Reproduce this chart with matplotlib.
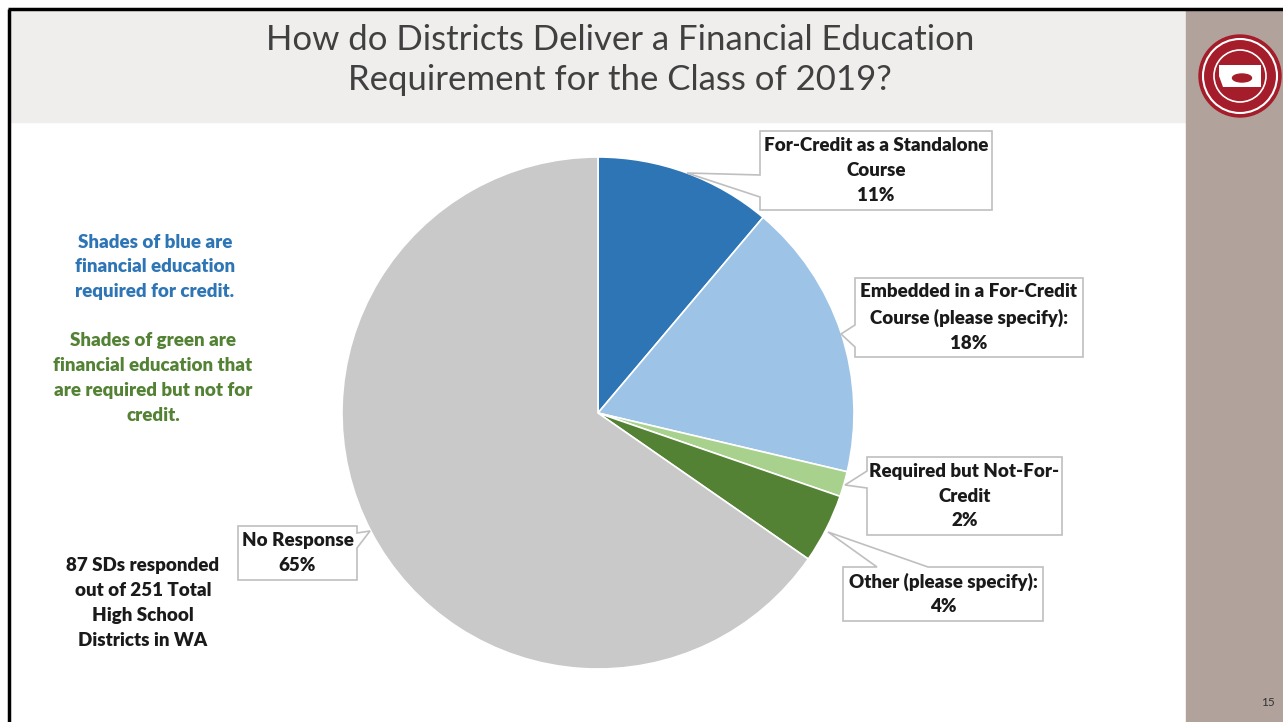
import matplotlib.pyplot as plt
import matplotlib.patches as patches

W, H = 1283, 722

# data (district counts out of 251 high school districts)
labels = ["For-Credit as a Standalone\nCourse",
          "Embedded in a For-Credit\nCourse (please specify):",
          "Required but Not-For-\nCredit",
          "Other (please specify):",
          "No Response"]
counts = [28, 44, 4, 11, 164]
colors = ["#2e75b6", "#9dc3e6", "#a9d18e", "#548235", "#c9c9c9"]
total = 251

title = "How do Districts Deliver a Financial Education\nRequirement for the Class of 2019?"
note_blue = "Shades of blue are\nfinancial education\nrequired for credit."
note_green = "Shades of green are\nfinancial education that\nare required but not for\ncredit."
note_black = "87 SDs responded\nout of 251 Total\nHigh School\nDistricts in WA"

plt.rcParams['font.family'] = ['Lato', 'DejaVu Sans']

fig = plt.figure(figsize=(W / 100, H / 100), dpi=100)
ax = fig.add_axes([0, 0, 1, 1])


def py(y):
    # pixel row (top origin) -> data y
    return H - y


# slide background
ax.add_patch(patches.Rectangle((10, py(122)), 1176, 112, color="#f0eeed", zorder=0))
ax.add_patch(patches.Rectangle((1186, 0), W - 1186, py(10), color="#b1a39b", zorder=0))
ax.plot([8, W], [py(9), py(9)], color="black", lw=2.5, zorder=1, solid_capstyle="butt")
ax.plot([9, 9], [py(9), 0], color="black", lw=2.5, zorder=1, solid_capstyle="butt")

# logo
lx, ly = 1240, py(76)
ax.add_patch(patches.Circle((lx, ly), 41, color="#a51c2a", zorder=2))
ax.add_patch(patches.Circle((lx, ly), 37, fill=False, ec="white", lw=1.5, zorder=3))
ax.add_patch(patches.Circle((lx, ly), 26, fill=False, ec="white", lw=1.2, zorder=3))
ax.add_patch(patches.Polygon([(lx - 21, ly + 11), (lx + 21, ly + 11), (lx + 21, ly - 11),
                              (lx - 17, ly - 11), (lx - 21, ly)], closed=True,
                             fc="white", ec="none", zorder=3))
ax.add_patch(patches.Ellipse((lx + 2, ly - 2), 19, 8, color="#a51c2a", zorder=4))

ax.text(620, py(60), title, ha="center", va="center", fontsize=25, color="#404040",
        linespacing=1.32, zorder=5)
ax.text(1268, py(703), "15", ha="center", va="center", fontsize=8.5, color="#333333")

# pie
cx, cy, r = 598, py(413), 256
ax.pie(counts, colors=colors, startangle=90, counterclock=False,
       center=(cx, cy), radius=r,
       wedgeprops=dict(edgecolor="white", linewidth=1.2))


def callout(x0, y0, x1, y1, side, a, b, tip, text):
    if side == "left":
        pts = [(x0, y0), (x1, y0), (x1, y1), (x0, y1), (x0, b), tip, (x0, a)]
    elif side == "right":
        pts = [(x0, y0), (x1, y0), (x1, a), tip, (x1, b), (x1, y1), (x0, y1)]
    else:
        pts = [(x0, y0), (a, y0), tip, (b, y0), (x1, y0), (x1, y1), (x0, y1)]
    pts = [(px, py(pyy)) for px, pyy in pts]
    ax.add_patch(patches.Polygon(pts, closed=True, fc="white", ec="#bfbfbf", lw=1.2, zorder=6))
    ax.text((x0 + x1) / 2, py((y0 + y1) / 2), text, ha="center", va="center",
            fontsize=13.5, fontweight="heavy", color="#1a1a1a", linespacing=1.55, zorder=7)


pcts = [round(100 * c / total) for c in counts]
boxes = [
    (760, 131, 992, 210, "left", 175, 197, (687, 173)),
    (855, 278, 1083, 357, "left", 325, 347, (841, 334)),
    (867, 457, 1062, 535, "left", 471, 488, (845, 485)),
    (843, 567, 1043, 621, "top", 877, 928, (828, 532)),
    (238, 526, 357, 580, "right", 533, 548, (370, 531)),
]
for lab, p, (x0, y0, x1, y1, side, a, b, tip) in zip(labels, pcts, boxes):
    callout(x0, y0, x1, y1, side, a, b, (tip[0], tip[1]), f"{lab}\n{p}%")

note_style = dict(ha="center", va="center", fontsize=13.5, fontweight="heavy",
                  linespacing=1.55)
ax.text(155, py(267), note_blue, color="#2e75b6", **note_style)
ax.text(153, py(378), note_green, color="#548235", **note_style)
ax.text(143, py(603), note_black, color="#1a1a1a", **note_style)

ax.set_xlim(0, W)
ax.set_ylim(0, H)
ax.set_aspect("equal")
ax.axis("off")

fig.savefig("out.png", dpi=100, facecolor="white")
